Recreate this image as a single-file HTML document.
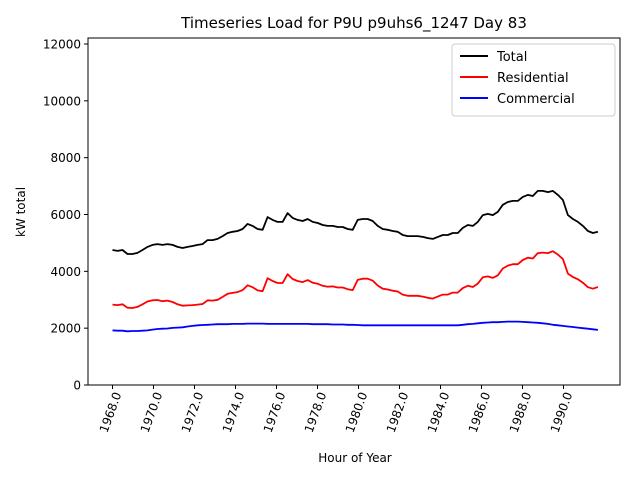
<!DOCTYPE html>
<html><head><meta charset="utf-8"><style>
body{margin:0;background:#fff}
svg{font-family:"DejaVu Sans","Liberation Sans",sans-serif}
</style></head><body>
<svg id="chart" width="640" height="480">
<rect width="640" height="480" fill="#fff"/>
<text x="354" y="28" font-size="15" text-anchor="middle">Timeseries Load for P9U p9uhs6_1247  Day 83</text>
<g id="grid"></g>
<g id="series"></g>
<rect x="88" y="38" width="532" height="347" fill="none" stroke="#000" stroke-width="1"/>
<text x="355" y="462" font-size="12" text-anchor="middle">Hour of Year</text>
<text transform="translate(25,212) rotate(-90)" font-size="12" text-anchor="middle">kW total</text>
<g>
<rect x="452" y="44" width="163" height="72" rx="3" fill="#fff" stroke="#ccc"/>
<g><line x1="460" y1="56" x2="488" y2="56" stroke="#000" stroke-width="2"/><text x="497" y="61" font-size="13">Total</text></g>
<g><line x1="460" y1="77" x2="488" y2="77" stroke="red" stroke-width="2"/><text x="497" y="82" font-size="13">Residential</text></g>
<g><line x1="460" y1="98" x2="488" y2="98" stroke="blue" stroke-width="2"/><text x="497" y="103" font-size="13">Commercial</text></g>
</g>
</svg>
<script>
const yTicks=[0,2000,4000,6000,8000,10000,12000];
const xTicks=[1968,1970,1972,1974,1976,1978,1980,1982,1984,1986,1988,1990];
const startYear=1968, stepYear=0.2441;
const total=[4750,4720,4750,4610,4610,4650,4750,4860,4930,4960,4930,4960,4930,4860,4820,4860,4890,4930,4960,5100,5100,5140,5240,5350,5390,5420,5490,5670,5600,5490,5460,5910,5810,5740,5740,6050,5880,5810,5770,5840,5740,5700,5630,5600,5600,5560,5560,5490,5460,5810,5840,5840,5770,5600,5490,5460,5420,5390,5280,5240,5240,5240,5210,5170,5140,5210,5280,5280,5350,5350,5530,5630,5600,5740,5980,6020,5980,6090,6340,6440,6480,6480,6620,6690,6650,6830,6830,6790,6830,6690,6510,5980,5840,5740,5600,5420,5350,5390];
const residential=[2830,2810,2840,2720,2710,2750,2840,2940,2980,2990,2950,2970,2920,2840,2790,2800,2810,2830,2850,2980,2970,3000,3100,3210,3240,3270,3340,3510,3440,3330,3300,3760,3660,3590,3590,3900,3730,3660,3620,3690,3600,3560,3490,3460,3470,3430,3430,3370,3340,3700,3740,3740,3670,3500,3390,3360,3320,3290,3180,3140,3140,3140,3110,3070,3040,3110,3180,3180,3250,3250,3410,3490,3450,3570,3790,3820,3770,3860,4100,4200,4250,4250,4400,4480,4450,4640,4660,4640,4710,4590,4430,3920,3800,3720,3600,3440,3390,3450];
const commercial=[1920,1910,1910,1890,1900,1900,1910,1920,1950,1970,1980,1990,2010,2020,2030,2060,2080,2100,2110,2120,2130,2140,2140,2140,2150,2150,2150,2160,2160,2160,2160,2150,2150,2150,2150,2150,2150,2150,2150,2150,2140,2140,2140,2140,2130,2130,2130,2120,2120,2110,2100,2100,2100,2100,2100,2100,2100,2100,2100,2100,2100,2100,2100,2100,2100,2100,2100,2100,2100,2100,2120,2140,2150,2170,2190,2200,2210,2210,2220,2230,2230,2230,2220,2210,2200,2190,2170,2150,2120,2100,2080,2060,2040,2020,2000,1980,1960,1940];
const NS="http://www.w3.org/2000/svg";
const xs=yr=>112.5+(yr-1968)*20.5;
const ys=v=>385-v*(341/12000);
const grid=document.getElementById('grid'), series=document.getElementById('series');
function mk(tag,attrs,parent){const e=document.createElementNS(NS,tag);for(const k in attrs)e.setAttribute(k,attrs[k]);parent.appendChild(e);return e;}
yTicks.forEach(t=>{
  const l=mk('line',{x1:84,x2:88,y1:ys(t),y2:ys(t),stroke:'#000'},grid);
  
  
  const tx=mk('text',{x:81,y:ys(t)+4.5,'font-size':12,'text-anchor':'end'},grid);
  tx.textContent=t;
  
  
});
xTicks.forEach(t=>{
  const x=xs(t);
  const l=mk('line',{x1:x,x2:x,y1:385,y2:389,stroke:'#000'},grid);
  
  
  const tx=mk('text',{transform:`translate(${x+9},394) rotate(-70)`,'font-size':12,'text-anchor':'end'},grid);
  tx.textContent=t.toFixed(1);
  
  
});
function line(arr,color,name){
  const pts=arr.map((v,i)=>xs(startYear+i*stepYear).toFixed(1)+','+ys(v).toFixed(1)).join(' ');
  const p=mk('polyline',{points:pts,fill:'none',stroke:color,'stroke-width':1.8,'stroke-linejoin':'round'},series);
  
  
}
line(total,'#000','total-line');
line(residential,'red','residential-line');
line(commercial,'blue','commercial-line');
</script>
</body></html>
